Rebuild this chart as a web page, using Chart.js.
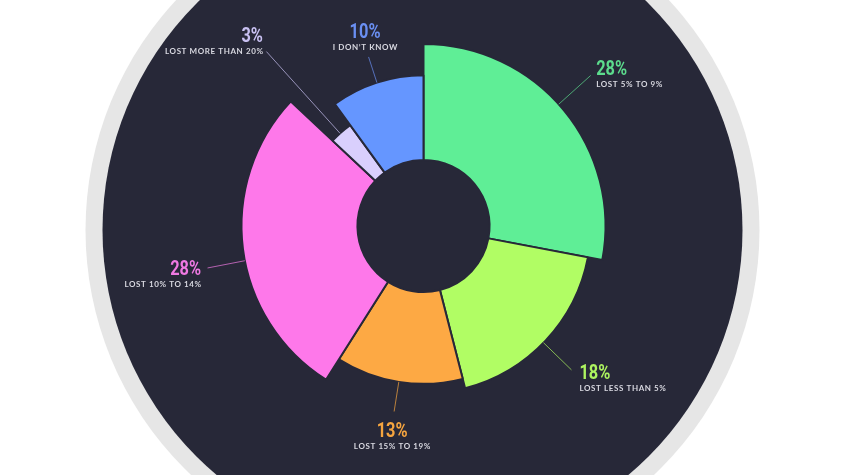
<!doctype html>
<html lang="en">
  <head>
    <meta charset="utf-8">
    <title>Weight lost</title>
    <script src="https://cdn.jsdelivr.net/npm/chart.js"></script>
    <style>
      html, body { margin: 0; padding: 0; background: #ffffff; }
      #wrap { width: 845px; height: 475px; position: relative; }
    </style>
  </head>
  <body>
    <div id="wrap"><canvas id="lossChart"></canvas></div>

    <script type="text/javascript">
      // data, clockwise from 12 o'clock
      var categories = ['LOST 5% TO 9%', 'LOST LESS THAN 5%', 'LOST 15% TO 19%', 'LOST 10% TO 14%', 'LOST MORE THAN 20%', 'I DON\u2019T KNOW'];
      var shares = [28, 18, 13, 28, 3, 10];

      var sliceColors = ['#5fee96', '#b1fd64', '#fda944', '#fe78ea', '#d9cffd', '#6596ff'];
      var textColors = ['#5cdc8d', '#adf460', '#f6a53f', '#ef79e2', '#c8c0f1', '#6a8ff2'];
      var darkBg = '#272838';

      // leader line and text placement per slice (angle tweak in deg, line length, text offset)
      var labelLayout = [
        { da: -2.4, len: 43, align: 'left',   dx: 5.5,  dy: 0 },
        { da: 1,    len: 39, align: 'left',   dx: 8,    dy: 9 },
        { da: 0,    len: 30, align: 'center', dx: -2,   dy: 26 },
        { da: -3.8, len: 38, align: 'right',  dx: -6.5, dy: 7 },
        { da: -0.6, len: 110, align: 'right', dx: -3.5, dy: -9.5 },
        { da: 0,    len: 27, align: 'center', dx: -3.5, dy: -18.5 }
      ];

      // background disc behind the chart
      var discPlugin = {
        id: 'disc',
        beforeDraw: function (chart) {
          var ctx = chart.ctx;
          var arc = chart.getDatasetMeta(0).data[0];
          var cx = arc.x - 1, cy = arc.y + 4;
          ctx.save();
          ctx.fillStyle = '#ffffff';
          ctx.fillRect(0, 0, chart.width, chart.height);
          ctx.beginPath();
          ctx.arc(cx, cy, 337, 0, Math.PI * 2);
          ctx.fillStyle = '#e6e6e6';
          ctx.fill();
          ctx.beginPath();
          ctx.arc(cx, cy, 320, 0, Math.PI * 2);
          ctx.fillStyle = darkBg;
          ctx.fill();
          ctx.restore();
        }
      };

      // each slice gets its own depth: grows with its share
      var depthPlugin = {
        id: 'depth',
        afterDatasetsUpdate: function (chart) {
          var meta = chart.getDatasetMeta(0);
          var vals = chart.data.datasets[0].data;
          var vmax = Math.max.apply(null, vals);
          meta.data.forEach(function (arc, i) {
            var full = arc.outerRadius - arc.innerRadius;
            arc.outerRadius = arc.innerRadius + full * Math.pow(vals[i] / vmax, 0.305);
          });
        }
      };

      var labelPlugin = {
        id: 'sliceLabels',
        afterDatasetsDraw: function (chart) {
          var ctx = chart.ctx;
          var meta = chart.getDatasetMeta(0);
          meta.data.forEach(function (arc, i) {
            var L = labelLayout[i];
            var a = (arc.startAngle + arc.endAngle) / 2 + L.da * Math.PI / 180;
            var r0 = arc.outerRadius, r1 = r0 + L.len;
            var x0 = arc.x + Math.cos(a) * r0, y0 = arc.y + Math.sin(a) * r0;
            var x1 = arc.x + Math.cos(a) * r1, y1 = arc.y + Math.sin(a) * r1;

            ctx.save();
            ctx.globalAlpha = 0.7;
            ctx.strokeStyle = textColors[i];
            ctx.lineWidth = 1;
            ctx.beginPath();
            ctx.moveTo(x0, y0);
            ctx.lineTo(x1, y1);
            ctx.stroke();
            ctx.restore();

            var tx = x1 + L.dx, ty = y1 + L.dy;
            ctx.save();
            ctx.translate(tx, ty);
            ctx.scale(0.78, 1);
            ctx.font = 'bold 21px Roboto';
            ctx.textAlign = L.align;
            ctx.textBaseline = 'alphabetic';
            ctx.fillStyle = textColors[i];
            ctx.fillText(shares[i] + '%', 0, 0);
            ctx.restore();

            ctx.save();
            ctx.font = 'bold 8px Lato';
            ctx.letterSpacing = '0.6px';
            ctx.textAlign = L.align;
            ctx.fillStyle = '#d8d8e0';
            var lx = tx;
            if (L.align === 'right') lx += 0.6;
            if (L.align === 'center') lx += 0.3;
            ctx.fillText(categories[i], lx, ty + 12);
            ctx.restore();
          });
        }
      };

      var ctx = document.getElementById('lossChart').getContext('2d');
      var chart = new Chart(ctx, {
        type: 'doughnut',
        data: {
          labels: categories,
          datasets: [{
            data: shares,
            backgroundColor: sliceColors,
            borderColor: darkBg,
            borderWidth: 2
          }]
        },
        options: {
          responsive: true,
          maintainAspectRatio: false,
          animation: false,
          radius: 182,
          cutout: '36.3%',
          layout: { padding: { left: 2, bottom: 23 } },
          plugins: {
            legend: { display: false },
            tooltip: { enabled: false }
          }
        },
        plugins: [discPlugin, depthPlugin, labelPlugin]
      });
    </script>
  </body>
</html>
